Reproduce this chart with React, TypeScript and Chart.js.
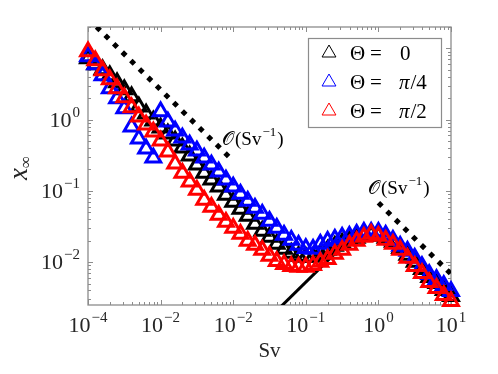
import React, { useEffect, useRef } from "react";
import { Chart, registerables } from "chart.js";

Chart.register(...registerables);

// ---------- data ----------
const sv = [
  1e-4, 1.259e-4, 1.585e-4, 1.995e-4, 2.512e-4, 3.162e-4, 3.981e-4, 5.012e-4, 6.31e-4, 7.943e-4,
  1e-3, 1.259e-3, 1.585e-3, 1.995e-3, 2.512e-3, 3.162e-3, 3.981e-3, 5.012e-3, 6.31e-3, 7.943e-3,
  1e-2, 1.259e-2, 1.585e-2, 1.995e-2, 2.512e-2, 3.162e-2, 3.981e-2, 5.012e-2, 6.31e-2, 7.943e-2,
  1e-1, 0.1259, 0.1585, 0.1995, 0.2512, 0.3162, 0.3981, 0.5012, 0.631, 0.7943,
  1, 1.259, 1.585, 1.995, 2.512, 3.162, 3.981, 5.012, 6.31, 7.943,
  10,
];

const theta0 = [
  7.23, 5.95, 5.06, 4.17, 3.32, 2.65, 2.11, 1.52, 1.215, 0.968,
  0.772, 0.635, 0.506, 0.403, 0.311, 0.232, 0.179, 0.143, 0.114, 0.0878,
  0.07, 0.0558, 0.0445, 0.0343, 0.0273, 0.0225, 0.0179, 0.0153, 0.0134, 0.0122,
  0.0118, 0.0118, 0.013, 0.0148, 0.0168, 0.0185, 0.0204, 0.0218, 0.0232, 0.024,
  0.0232, 0.0218, 0.0191, 0.0157, 0.0126, 0.01, 0.00797, 0.00615, 0.00506, 0.00403,
  0.00332,
];

const thetaPi4 = [
  7.71, 5.95, 4.17, 2.73, 1.98, 1.43, 0.797, 0.54, 0.391, 0.292,
  1.3, 0.937, 0.7, 0.558, 0.445, 0.366, 0.292, 0.232, 0.185, 0.143,
  0.114, 0.0907, 0.0723, 0.0576, 0.0474, 0.0378, 0.0301, 0.024, 0.0204, 0.0174,
  0.0157, 0.0153, 0.0179, 0.0198, 0.0211, 0.0225, 0.0232, 0.0248, 0.0265, 0.0265,
  0.0265, 0.024, 0.0204, 0.0168, 0.0143, 0.0114, 0.00878, 0.00678, 0.00576, 0.00474,
  0.00391,
];

const thetaPi2 = [
  9.08, 6.78, 4.9, 3.66, 2.73, 2.04, 1.476, 1.1, 0.85, 0.678,
  0.506, 0.354, 0.24, 0.179, 0.134, 0.103, 0.0747, 0.0595, 0.0459, 0.0366,
  0.0301, 0.0248, 0.0198, 0.0174, 0.0148, 0.0122, 0.0103, 0.00937, 0.00878, 0.00851,
  0.00851, 0.00907, 0.01, 0.011, 0.013, 0.0148, 0.0174, 0.0198, 0.0225, 0.0248,
  0.0232, 0.0204, 0.0179, 0.0148, 0.0114, 0.00878, 0.007, 0.00523, 0.0043, 0.00343,
  0.00282,
];

// reference slopes
const refUpperX = [1e-4, 1e-2];
const refUpperY = [26.3, 0.263];
const refLowerX = [1, 10];
const refLowerY = [0.068, 0.0068];
const solidX = [0.04, 0.3];
const solidY = [0.00209, 0.0157];

// axes
const xMin = 1e-4;
const xMax = 10;
const yMin = 0.0025;
const yMax = 20;
const xMajorTicks = [1e-4, 1e-3, 1e-2, 1e-1, 1, 10];
const xTickExponents = ["\u22124", "\u22122", "\u22122", "\u22121", "0", "1"];
const yMajorTicks = [1e-2, 1e-1, 1];
const yTickExponents = ["\u22122", "\u22121", "0"];

const seriesNames = ["\u0398 = 0", "\u0398 = \u03c0/4", "\u0398 = \u03c0/2"];
const legendValues = ["0", "\u03c0/4", "\u03c0/2"];
const seriesColors = ["#000000", "#0000ff", "#ff0000"];

const SERIF = '"Liberation Serif", "DejaVu Serif", serif';
const AXIS_COLOR = "#8c8c8c";
const TEXT_COLOR = "#262626";

function drawPow(ctx: CanvasRenderingContext2D, base: string, exp: string, x: number, y: number, align: string, bs: number, es: number, rise: number) {
  ctx.font = `${bs}px ${SERIF}`;
  const wb = ctx.measureText(base).width;
  ctx.font = `${es}px ${SERIF}`;
  const we = ctx.measureText(exp).width;
  const total = wb + we + 1;
  let x0 = x;
  if (align === "center") x0 = x - total / 2;
  else if (align === "right") x0 = x - total;
  ctx.textAlign = "left";
  ctx.textBaseline = "alphabetic";
  ctx.font = `${bs}px ${SERIF}`;
  ctx.fillText(base, x0, y);
  ctx.font = `${es}px ${SERIF}`;
  ctx.fillText(exp, x0 + wb + 1, y - rise);
}

function drawOrder(ctx: CanvasRenderingContext2D, x: number, y: number) {
  // O(Sv^-1)
  ctx.textAlign = "left";
  ctx.textBaseline = "alphabetic";
  ctx.font = `19px ${SERIF}`;
  ctx.fillText("\ud835\udcaa", x, y);
  let cx = x + ctx.measureText("\ud835\udcaa").width + 1;
  ctx.fillText("(Sv", cx, y);
  cx += ctx.measureText("(Sv").width;
  ctx.font = `13px ${SERIF}`;
  ctx.fillText("\u22121", cx + 1, y - 9);
  cx += ctx.measureText("\u22121").width + 2;
  ctx.font = `19px ${SERIF}`;
  ctx.fillText(")", cx, y);
}

function triPath(ctx: CanvasRenderingContext2D, cx: number, cy: number, r: number) {
  ctx.beginPath();
  ctx.moveTo(cx, cy - r);
  ctx.lineTo(cx + 0.866 * r, cy + 0.5 * r);
  ctx.lineTo(cx - 0.866 * r, cy + 0.5 * r);
  ctx.closePath();
}

const framePlugin = {
  id: "framePlugin",
  beforeDatasetsDraw(chart: any) {
    const { ctx, chartArea: a, scales } = chart;
    const xs = scales.x;
    const ys = scales.y;
    ctx.save();
    ctx.strokeStyle = AXIS_COLOR;
    ctx.lineWidth = 1.3;
    ctx.strokeRect(a.left, a.top, a.right - a.left, a.bottom - a.top);
    ctx.lineWidth = 1;
    ctx.beginPath();
    for (let k = -4; k <= 1; k++) {
      for (let m = 1; m <= 9; m++) {
        const v = m * Math.pow(10, k);
        if (v < xMin * 0.999 || v > xMax * 1.001) continue;
        const px = Math.round(xs.getPixelForValue(v)) + 0.5;
        const len = m === 1 ? 5 : 3;
        ctx.moveTo(px, a.bottom);
        ctx.lineTo(px, a.bottom - len);
        ctx.moveTo(px, a.top);
        ctx.lineTo(px, a.top + len);
      }
    }
    for (let k = -3; k <= 1; k++) {
      for (let m = 1; m <= 9; m++) {
        const v = m * Math.pow(10, k);
        if (v < yMin * 0.999 || v > yMax * 1.001) continue;
        const py = Math.round(ys.getPixelForValue(v)) + 0.5;
        const len = m === 1 ? 5 : 3;
        ctx.moveTo(a.left, py);
        ctx.lineTo(a.left + len, py);
        ctx.moveTo(a.right, py);
        ctx.lineTo(a.right - len, py);
      }
    }
    ctx.stroke();
    ctx.restore();
  },
  afterDraw(chart: any) {
    const { ctx, chartArea: a, scales } = chart;
    const xs = scales.x;
    const ys = scales.y;
    ctx.save();
    ctx.fillStyle = TEXT_COLOR;
    // tick labels
    xMajorTicks.forEach((v, i) => {
      drawPow(ctx, "10", xTickExponents[i], xs.getPixelForValue(v), a.bottom + 27, "center", 22, 15, 10);
    });
    yMajorTicks.forEach((v, i) => {
      drawPow(ctx, "10", yTickExponents[i], a.left - 8, ys.getPixelForValue(v) + 7, "right", 22, 15, 10);
    });
    // axis titles
    ctx.textAlign = "center";
    ctx.textBaseline = "alphabetic";
    ctx.font = `21px ${SERIF}`;
    ctx.fillText("Sv", (a.left + a.right) / 2, 357);
    ctx.save();
    ctx.translate(27, (a.top + a.bottom) / 2 + 2);
    ctx.rotate(-Math.PI / 2);
    ctx.font = `italic 27px ${SERIF}`;
    const wx = ctx.measureText("x").width;
    ctx.font = `17px ${SERIF}`;
    const wi = ctx.measureText("\u221e").width;
    const x0 = -(wx + wi) / 2;
    ctx.textAlign = "left";
    ctx.font = `italic 27px ${SERIF}`;
    ctx.fillText("x", x0, 0);
    ctx.font = `17px ${SERIF}`;
    ctx.fillText("\u221e", x0 + wx, 4);
    ctx.restore();

    // slope annotations
    ctx.fillStyle = "#000";
    drawOrder(ctx, 222, 145);
    drawOrder(ctx, 368, 194);

    // legend
    const lx = 308, ly = 38, lw = 133, lh = 89;
    ctx.fillStyle = "#ffffff";
    ctx.fillRect(lx, ly, lw, lh);
    ctx.strokeStyle = AXIS_COLOR;
    ctx.lineWidth = 1.2;
    ctx.strokeRect(lx + 0.5, ly + 0.5, lw, lh);
    const rows = [53, 82, 111];
    seriesNames.forEach((name, i) => {
      ctx.strokeStyle = seriesColors[i];
      ctx.lineWidth = 1;
      triPath(ctx, 329, rows[i], 8);
      ctx.stroke();
      const base = rows[i] + 7;
      ctx.fillStyle = "#000";
      ctx.textAlign = "left";
      ctx.font = `21px ${SERIF}`;
      ctx.fillText("\u0398", 350, base);
      ctx.fillText("=", 370, base);
      const val = legendValues[i];
      if (val.startsWith("\u03c0")) {
        ctx.font = `italic 21px ${SERIF}`;
        ctx.fillText("\u03c0", 399, base);
        const wp = ctx.measureText("\u03c0").width;
        ctx.font = `21px ${SERIF}`;
        ctx.fillText(val.slice(1), 399 + wp + 1, base);
      } else {
        ctx.font = `21px ${SERIF}`;
        ctx.fillText(val, 400, base);
      }
    });
    ctx.restore();
  },
};

function pts(xs: number[], ys: number[]) {
  return xs.map((x, i) => ({ x, y: ys[i] }));
}

export default function App() {
  const ref = useRef<HTMLCanvasElement | null>(null);
  useEffect(() => {
    if (!ref.current) return;
    const markerDs = (label: string, data: number[], color: string, order: number) => ({
      label,
      data: pts(sv, data),
      showLine: false,
      pointStyle: "triangle",
      pointRadius: 8.5,
      pointHoverRadius: 8.5,
      pointBorderWidth: 3,
      pointBackgroundColor: "rgba(0,0,0,0)",
      pointBorderColor: color,
      borderColor: color,
      backgroundColor: "rgba(0,0,0,0)",
      clip: false,
      order,
    });
    const chart = new Chart(ref.current, {
      type: "scatter",
      data: {
        datasets: [
          markerDs(seriesNames[0], theta0, seriesColors[0], 2),
          markerDs(seriesNames[1], thetaPi4, seriesColors[1], 1),
          markerDs(seriesNames[2], thetaPi2, seriesColors[2], 0),
          {
            label: "solid",
            data: pts(solidX, solidY),
            showLine: true,
            pointRadius: 0,
            borderColor: "#000",
            borderWidth: 3,
            clip: 0,
            order: 3,
          },
          {
            label: "slope1",
            data: pts(refUpperX, refUpperY),
            showLine: true,
            pointRadius: 0,
            borderColor: "#000",
            borderWidth: 5,
            borderDash: [5, 7],
            borderCapStyle: "butt",
            clip: 0,
            order: 4,
          },
          {
            label: "slope2",
            data: pts(refLowerX, refLowerY),
            showLine: true,
            pointRadius: 0,
            borderColor: "#000",
            borderWidth: 5,
            borderDash: [5, 7],
            borderCapStyle: "butt",
            clip: 0,
            order: 4,
          },
        ],
      } as any,
      options: {
        animation: false,
        responsive: false,
        devicePixelRatio: 1,
        layout: { padding: { left: 88, top: 27, right: 47, bottom: 69 } },
        scales: {
          x: { type: "logarithmic", min: xMin, max: xMax, display: false },
          y: { type: "logarithmic", min: yMin, max: yMax, display: false },
        },
        plugins: {
          legend: { display: false },
          tooltip: { enabled: false },
        },
      } as any,
      plugins: [framePlugin],
    });
    return () => chart.destroy();
  }, []);
  return (
    <div style={{ position: "absolute", left: 0, top: 0, width: 498, height: 374, background: "#fff" }}>
      <canvas ref={ref} width={498} height={374} style={{ display: "block" }} />
    </div>
  );
}
